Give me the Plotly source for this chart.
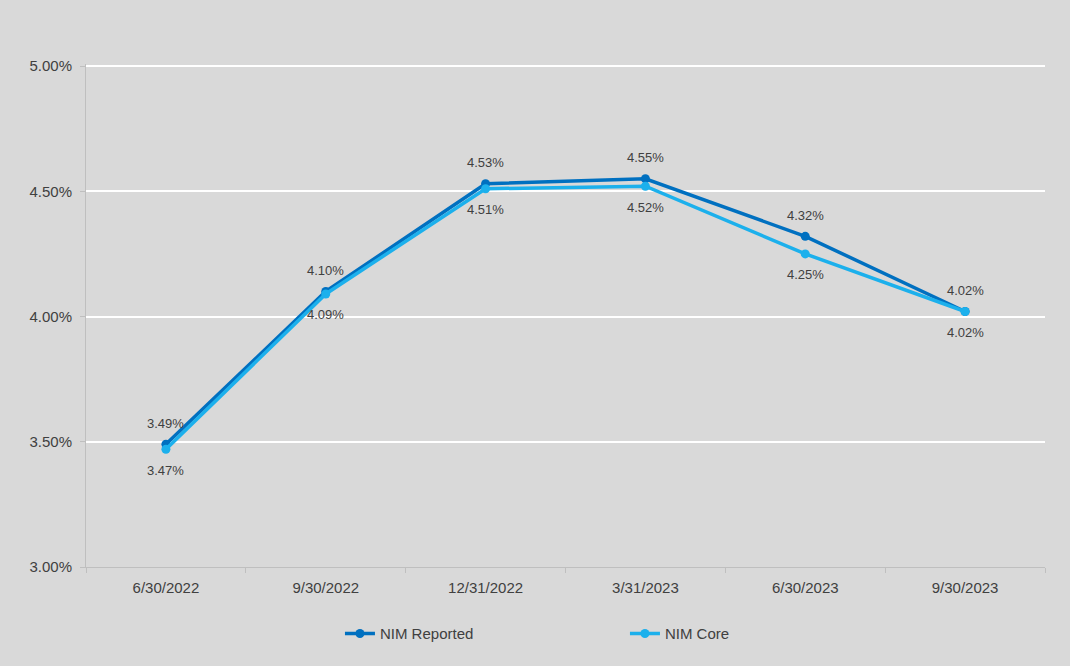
import plotly.graph_objects as go

categories = ["6/30/2022", "9/30/2022", "12/31/2022", "3/31/2023", "6/30/2023", "9/30/2023"]
nim_reported = [3.49, 4.10, 4.53, 4.55, 4.32, 4.02]
nim_core = [3.47, 4.09, 4.51, 4.52, 4.25, 4.02]
y_ticks = [3.0, 3.5, 4.0, 4.5, 5.0]
y_tick_labels = ["3.00%", "3.50%", "4.00%", "4.50%", "5.00%"]

BG = "#D9D9D9"
TXT = "#404040"
FONT = "Liberation Sans, Arial"

fig = go.Figure()
fig.add_trace(go.Scatter(
    x=categories, y=nim_reported, name="NIM Reported", mode="lines+markers",
    line=dict(color="#0070C0", width=3.5), marker=dict(size=9, color="#0070C0"),
    cliponaxis=False,
))
fig.add_trace(go.Scatter(
    x=categories, y=nim_core, name="NIM Core", mode="lines+markers",
    line=dict(color="#1CB0EC", width=3.5), marker=dict(size=9, color="#1CB0EC"),
    cliponaxis=False,
))

annotations = []
for c, v in zip(categories, nim_reported):
    annotations.append(dict(x=c, y=v, text=f"{v:.2f}%", showarrow=False,
                            yshift=21, font=dict(size=13, color=TXT, family=FONT)))
for c, v in zip(categories, nim_core):
    annotations.append(dict(x=c, y=v, text=f"{v:.2f}%", showarrow=False,
                            yshift=-21, font=dict(size=13, color=TXT, family=FONT)))

fig.update_layout(
    width=1070, height=666,
    paper_bgcolor=BG, plot_bgcolor=BG,
    margin=dict(l=86, r=25, t=64, b=99),
    font=dict(family=FONT, size=15, color=TXT),
    showlegend=True,
    annotations=annotations,
    legend=dict(orientation="h", x=0.562, xanchor="center", y=-0.1, yanchor="top",
                entrywidth=240, font=dict(size=15, color=TXT), bgcolor="rgba(0,0,0,0)"),
    xaxis=dict(
        type="category", tickson="boundaries", ticks="outside", ticklen=5,
        tickcolor="#BFBFBF", showline=True, linecolor="#BFBFBF", linewidth=1,
        showgrid=False, tickfont=dict(size=15, color=TXT), range=[-0.5, 5.5],
        ticklabelstandoff=7,
    ),
    yaxis=dict(
        range=[3.0, 5.008], tickvals=y_ticks, ticktext=y_tick_labels,
        ticks="outside", ticklen=5, tickcolor="#BFBFBF",
        showline=True, linecolor="#BFBFBF", linewidth=1,
        gridcolor="#FFFFFF", gridwidth=1.5, zeroline=False,
        tickfont=dict(size=15, color=TXT), ticklabelstandoff=5,
    ),
)

fig.write_html("out.html", config={"displayModeBar": False},
               post_script="document.body.style.margin='0';")
